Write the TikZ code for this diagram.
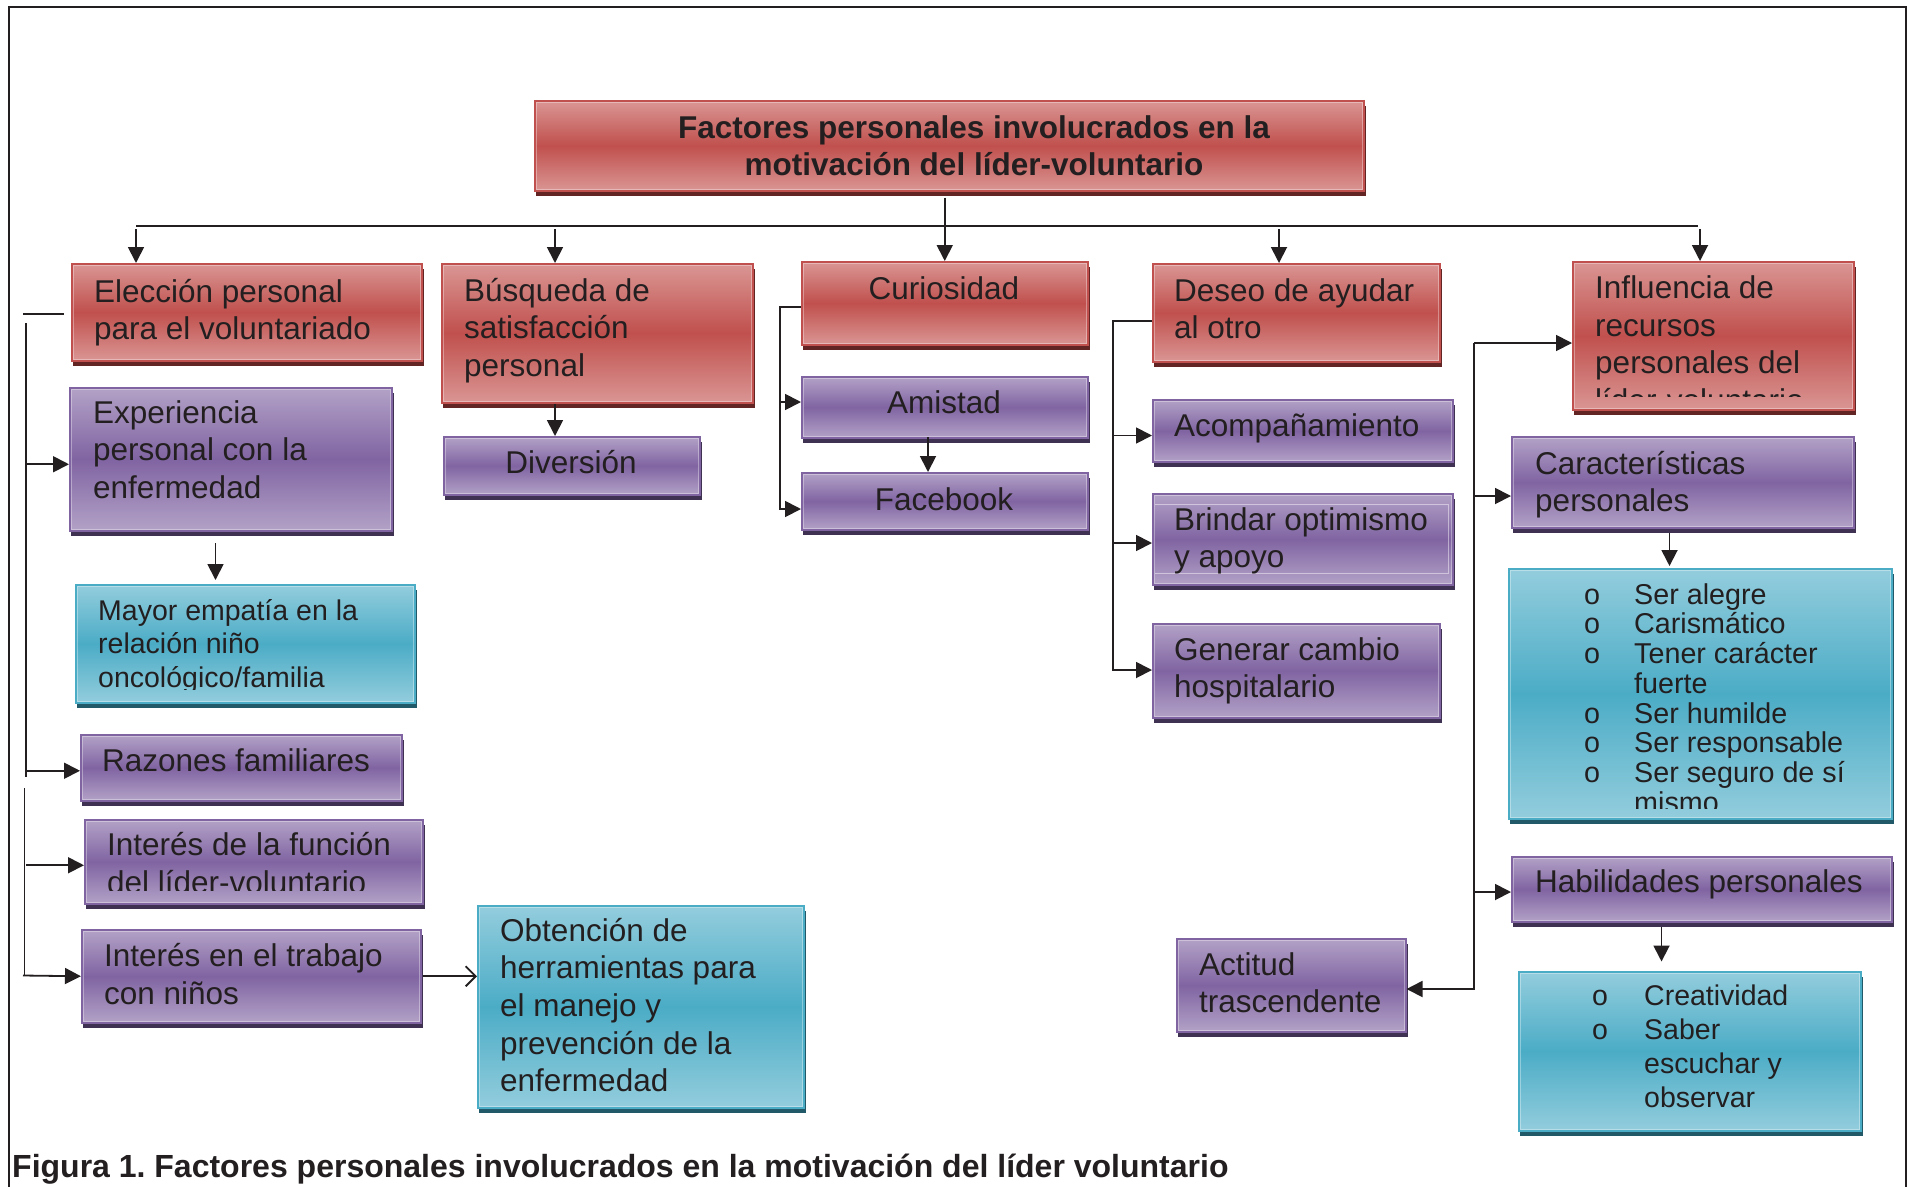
\documentclass[tikz,border=0pt]{standalone}
\usepackage{fontspec}
\setmainfont{Liberation Sans}
\usetikzlibrary{arrows.meta}
\frenchspacing
\definecolor{rdL}{HTML}{DA9694}
\definecolor{rdD}{HTML}{C0504D}
\definecolor{rdS}{HTML}{632523}
\definecolor{puL}{HTML}{B3A2C7}
\definecolor{puD}{HTML}{8064A2}
\definecolor{puS}{HTML}{3F3151}
\definecolor{blL}{HTML}{93CDDD}
\definecolor{blD}{HTML}{4BACC6}
\definecolor{blS}{HTML}{215968}
\definecolor{ink}{HTML}{231F20}
\newcommand\mkbox[6]{%
  \fill[#2S] ({#3+2},{#4+6}) rectangle ({#5+3},{#6+6});
  \pgfmathsetmacro\bw{#5-#3}\pgfmathsetmacro\bh{#6-#4}%
  \node[#2box, minimum width=\bw pt, minimum height=\bh pt, anchor=north west] (#1) at (#3,#4) {};
  \draw[white, opacity=0.35, line width=1.2pt] ([shift={(2.2pt,-2.2pt)}]#1.north west) rectangle ([shift={(-2.2pt,2.2pt)}]#1.south east);
}
\newcommand\mktxt[5]{\node[tx,#4] (#1) at (#2,#3) {\begin{tabular}[t]{@{}l@{}}#5\end{tabular}};}
\newcommand\mkctxt[5]{\node[tx,anchor=base,#4] (#1) at (#2,#3) {\begin{tabular}[t]{@{}c@{}}#5\end{tabular}};}
\newcommand\lbul[1][50pt]{\makebox[#1][l]{o}}
\newcommand\lnob[1][50pt]{\makebox[#1][l]{}}
\tikzset{
  rdbox/.style={draw=rdD, line width=1.5pt, top color=rdL, bottom color=rdL, middle color=rdD, inner sep=0},
  pubox/.style={draw=puD, line width=1.5pt, top color=puL, bottom color=puL, middle color=puD, inner sep=0},
  blbox/.style={draw=blD, line width=1.5pt, top color=blL, bottom color=blL, middle color=blD, inner sep=0},
  rdS/.style={fill=rdS}, puS/.style={fill=puS}, blS/.style={fill=blS},
  ln/.style={draw=ink, line width=1.8pt},
  arr/.style={ln, -{Triangle[length=16pt,width=16pt]}},
  oarr/.style={ln, -{Straight Barb[length=10pt,width=20pt]}},
  tx/.style={anchor=base west, inner sep=0, text=ink, font=\fontsize{31.5}{37.5}\selectfont},
}
\begin{document}
\begin{tikzpicture}[x=1pt,y=-1pt]
\useasboundingbox (0,0) rectangle (1910,1186);
\fill[white] (0,0) rectangle (1910,1186);
\draw[draw=ink, line width=2pt] (9,1195) -- (9,7) -- (1906,7) -- (1906,1195);

% red boxes
\mkbox{title}{rd}{534}{100}{1363}{190}
\mkbox{elec}{rd}{71}{263}{421}{360}
\mkbox{busq}{rd}{441}{263}{752}{402}
\mkbox{curio}{rd}{801}{261}{1087}{344}
\mkbox{deseo}{rd}{1152}{263}{1439}{361}
\mkbox{influ}{rd}{1572}{261}{1853}{409}
% purple boxes
\mkbox{exper}{pu}{69}{387}{391}{530}
\mkbox{div}{pu}{443}{436}{699}{494}
\mkbox{amis}{pu}{801}{376}{1087}{437}
\mkbox{face}{pu}{801}{472}{1087}{529}
\mkbox{acomp}{pu}{1152}{399}{1452}{461}
\mkbox{brind}{pu}{1152}{493}{1452}{584}
\draw[white, opacity=0.45, line width=1pt] (1155,504) -- (1448,504) -- (1448,573) -- (1155,573);
\mkbox{gener}{pu}{1152}{623}{1439}{717}
\mkbox{carac}{pu}{1511}{436}{1853}{527}
\mkbox{habil}{pu}{1511}{856}{1891}{921}
\mkbox{actit}{pu}{1176}{938}{1405}{1031}
\mkbox{razon}{pu}{80}{734}{401}{800}
\mkbox{intf}{pu}{84}{819}{422}{903}
\mkbox{intt}{pu}{81}{929}{420}{1022}
% blue boxes
\mkbox{mayor}{bl}{75}{584}{414}{702}
\mkbox{obten}{bl}{477}{905}{803}{1107}
\mkbox{listA}{bl}{1508}{568}{1891}{818}
\mkbox{listB}{bl}{1518}{971}{1860}{1130}

% texts
\mkctxt{titlet}{974}{138.5}{font=\bfseries\fontsize{31.5}{37}\selectfont}{Factores personales involucrados en la\\motivación del líder-voluntario}
\mktxt{elect}{94}{302}{}{Elección personal\\para el voluntariado}
\mktxt{busqt}{464}{301}{}{Búsqueda de\\satisfacción\\personal}
\mkctxt{curiot}{944}{299}{}{Curiosidad}
\mktxt{deseot}{1174}{301}{}{Deseo de ayudar\\al otro}
\begin{scope}
\clip (1572,261) rectangle (1853,396);
\mktxt{influt}{1595}{298.5}{}{Influencia de\\recursos\\personales del\\líder-voluntario}
\end{scope}
\mktxt{expert}{93}{423}{}{Experiencia\\personal con la\\enfermedad}
\mkctxt{divt}{571}{473}{}{Diversión}
\mkctxt{amist}{944}{413}{}{Amistad}
\mkctxt{facet}{944}{510}{}{Facebook}
\mktxt{acompt}{1174}{436}{}{Acompañamiento}
\mktxt{brindt}{1174}{530}{}{Brindar optimismo\\y apoyo}
\mktxt{genert}{1174}{660}{}{Generar cambio\\hospitalario}
\mktxt{caract}{1535}{474}{}{Características\\personales}
\mktxt{habilt}{1535}{892}{}{Habilidades personales}
\mktxt{actitt}{1199}{975}{}{Actitud\\trascendente}
\mktxt{razont}{102}{771}{}{Razones familiares}
\begin{scope}
\clip (84,819) rectangle (422,890);
\mktxt{intft}{107}{855.5}{font=\fontsize{31.5}{37.5}\selectfont}{Interés de la función\\del líder-voluntario}
\end{scope}
\mktxt{inttt}{104}{966.5}{}{Interés en el trabajo\\con niños}
\begin{scope}
\clip (75,584) rectangle (414,689.5);
\mktxt{mayort}{98}{620}{font=\fontsize{28.5}{33.8}\selectfont}{Mayor empatía en la\\relación niño\\oncológico/familia}
\end{scope}
\mktxt{obtent}{500}{941}{font=\fontsize{31.5}{37.7}\selectfont}{Obtención de\\herramientas para\\el manejo y\\prevención de la\\enfermedad}
\begin{scope}
\clip (1508,568) rectangle (1891,808);
\mktxt{listAt}{1584}{604}{font=\fontsize{28.7}{29.5}\selectfont}{\lbul Ser alegre\\\lbul Carismático\\\lbul Tener carácter\\\lnob fuerte\\\lbul Ser humilde\\\lbul Ser responsable\\\lbul Ser seguro de sí\\\lnob mismo}
\end{scope}
\mktxt{listBt}{1592}{1005}{font=\fontsize{28.5}{34.3}\selectfont}{\lbul[52pt]Creatividad\\\lbul[52pt]Saber\\\lnob[52pt]escuchar y\\\lnob[52pt]observar}
\node[anchor=base west, inner sep=0, text=ink, font=\bfseries\fontsize{32}{38}\selectfont] (cap) at (12,1177) {Figura 1. Factores personales involucrados en la motivación del líder voluntario};

% connectors: top bus
\coordinate (bus1) at (136,226);
\coordinate (bus2) at (555,226);
\coordinate (bus4) at (1279,226);
\coordinate (bus5) at (1700,226);
\coordinate (busE) at (1698,226);
\draw[ln] (bus1) -- (busE);
\draw[arr] ([yshift=-6pt]title.south -| curio.north) -- (curio.north);
\draw[arr] ([yshift=-3pt]bus1) -- (bus1 |- elec.north);
\draw[arr] ([yshift=-3pt]bus2) -- (bus2 |- busq.north);
\draw[arr] ([yshift=-3pt]bus4) -- (bus4 |- deseo.north);
\draw[arr] ([yshift=-3pt]bus5) -- (bus5 |- influ.north);

% left column
\draw[ln] ([xshift=-7pt,yshift=-1.5pt]elec.west) -- ++(-41pt,0);
\coordinate (LA) at (26,323);
\coordinate (LB) at (26,777);
\coordinate (LC) at (24.5,788);
\coordinate (LD) at (24.5,975.5);
\coordinate (eW) at ([yshift=-5pt]exper.west);
\coordinate (rW) at ([yshift=-3pt]razon.west);
\coordinate (fW) at ([yshift=-3.5pt]intf.west);
\draw[ln] (LA) -- (LB);
\draw[ln] (LC) -- (LD);
\draw[arr] (LA |- eW) -- (eW);
\draw[arr] (LA |- rW) -- (rW);
\draw[arr] (LA |- fW) -- (fW);
\draw[arr] ([xshift=-1.5pt]LD) -- (intt.west);
\coordinate (em) at (215.5,543);
\draw[arr] (em) -- ([yshift=4pt]em |- mayor.north);
\draw[oarr] ([xshift=1pt]intt.east) -- (obten.west |- intt.east);

% busqueda
\draw[arr] (bus2 |- busq.south) -- (bus2 |- div.north);

% curiosidad
\coordinate (ca) at (780,402);
\coordinate (cb) at (780,509);
\draw[arr] ([yshift=-4pt]curio.west) -| (cb) -- (cb -| face.west);
\draw[arr] (ca) -- (ca -| amis.west);
\coordinate (af) at (928,437);
\draw[arr] (af) -- (af |- face.north);

% deseo
\coordinate (dA) at (1113,435.5);
\coordinate (dB) at (1113,543);
\coordinate (dC) at (1113,670);
\draw[arr] ([yshift=-8pt]deseo.west) -| (dC) -- (dC -| gener.west);
\draw[arr] (dA) -- (dA -| acomp.west);
\draw[arr] (dB) -- (dB -| brind.west);

% influencia
\coordinate (iA) at (1474,343);
\coordinate (iB) at (1474,496);
\coordinate (iC) at (1474,892);
\coordinate (iD) at (1474,989);
\draw[arr] (iA) -- (iA -| influ.west);
\draw[arr] (iA) -- (iD) -- (iD -| actit.east);
\draw[arr] (iB) -- (iB -| carac.west);
\draw[arr] (iC) -- (iC -| habil.west);
\coordinate (ka) at (1669.5,533);
\draw[arr] (ka) -- ([yshift=2pt]ka |- listA.north);
\coordinate (kb) at (1661.5,927);
\draw[arr] (kb) -- ([yshift=9.5pt]kb |- listB.north);
\end{tikzpicture}
\end{document}
